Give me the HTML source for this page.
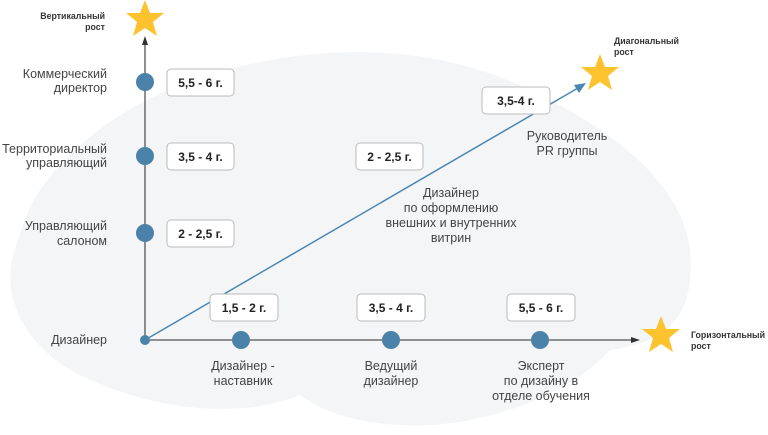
<!DOCTYPE html>
<html><head><meta charset="utf-8"><style>
html,body{margin:0;padding:0;background:#fff;}
svg{display:block;font-family:"Liberation Sans",sans-serif;}
</style></head><body>
<svg width="768" height="435" viewBox="0 0 768 435" xmlns="http://www.w3.org/2000/svg">
<path d="M40,190 C90,120 170,80 260,62 C350,44 450,48 540,95 C630,140 700,200 690,280 C685,330 650,345 610,350 C570,395 480,430 400,425 C350,422 320,410 300,395 C240,420 150,410 80,375 C20,345 0,290 15,250 C22,225 30,205 40,190 Z" fill="#f4f5f7"/>
<g fill="#333" font-size="8.8" font-weight="bold">
<text x="105" y="19" text-anchor="end">Вертикальный</text>
<text x="105" y="30" text-anchor="end">рост</text>
<text x="614" y="44">Диагональный</text>
<text x="614" y="55">рост</text>
<text x="691" y="338">Горизонтальный</text>
<text x="691" y="349">рост</text>
</g>
<line x1="145" y1="340" x2="145" y2="40" stroke="#555" stroke-width="1.3"/>
<polygon points="145,36 142,45 148,45" fill="#333"/>
<line x1="145" y1="340" x2="632" y2="340" stroke="#555" stroke-width="1.3"/>
<polygon points="640,340 631,337 631,343" fill="#333"/>
<line x1="145" y1="340" x2="578" y2="88" stroke="#4a86b0" stroke-width="1.5"/>
<polygon points="586,83 574,85 579,93" fill="#4a86b0"/>
<g fill="#fcc32f">
<polygon points="145,0 150,13 164,13 153,22 157,36 145,28 133,36 137,22 126,13 140,13"/>
<polygon points="600,54 605,67 619,67 608,76 612,90 600,82 588,90 592,76 581,67 595,67"/>
<polygon points="661,316 666,329 680,329 669,338 673,352 661,344 649,352 653,338 642,329 656,329"/>
</g>
<g fill="#4a82aa">
<circle cx="145" cy="82" r="9"/><circle cx="145" cy="156" r="9"/><circle cx="145" cy="233" r="9"/>
<circle cx="145" cy="340" r="5"/>
<circle cx="241" cy="340" r="9"/><circle cx="391" cy="340" r="9"/><circle cx="540" cy="340" r="9"/>
</g>
<g fill="#fff" stroke="#bbb" stroke-width="1">
<rect x="167" y="69" width="67" height="27" rx="4"/>
<rect x="167" y="143" width="67" height="27" rx="4"/>
<rect x="167" y="220" width="67" height="27" rx="4"/>
<rect x="356" y="143" width="67" height="27" rx="4"/>
<rect x="482" y="87" width="68" height="27" rx="4"/>
<rect x="210" y="294" width="68" height="27" rx="4"/>
<rect x="357" y="294" width="68" height="27" rx="4"/>
<rect x="507" y="294" width="68" height="27" rx="4"/>
</g>
<g fill="#222" font-size="12" font-weight="bold" text-anchor="middle">
<text x="200.5" y="87">5,5 - 6 г.</text>
<text x="200.5" y="161">3,5 - 4 г.</text>
<text x="200.5" y="238">2 - 2,5 г.</text>
<text x="389.5" y="161">2 - 2,5 г.</text>
<text x="516" y="105">3,5-4 г.</text>
<text x="244" y="312">1,5 - 2 г.</text>
<text x="391" y="312">3,5 - 4 г.</text>
<text x="541" y="312">5,5 - 6 г.</text>
</g>
<g fill="#444" font-size="12.5">
<g text-anchor="end">
<text x="107" y="78">Коммерческий</text><text x="107" y="92">директор</text>
<text x="107" y="153">Территориальный</text><text x="107" y="167">управляющий</text>
<text x="107" y="230">Управляющий</text><text x="107" y="245">салоном</text>
<text x="107" y="344">Дизайнер</text>
</g>
<g text-anchor="middle">
<text x="567" y="140">Руководитель</text><text x="567" y="155">PR группы</text>
<text x="451" y="197">Дизайнер</text><text x="451" y="212">по оформлению</text><text x="451" y="227">внешних и внутренних</text><text x="451" y="242">витрин</text>
<text x="243" y="370">Дизайнер -</text><text x="243" y="385">наставник</text>
<text x="391" y="370">Ведущий</text><text x="391" y="385">дизайнер</text>
<text x="541" y="370">Эксперт</text><text x="541" y="385">по дизайну в</text><text x="541" y="400">отделе обучения</text>
</g>
</g>
</svg>
</body></html>
